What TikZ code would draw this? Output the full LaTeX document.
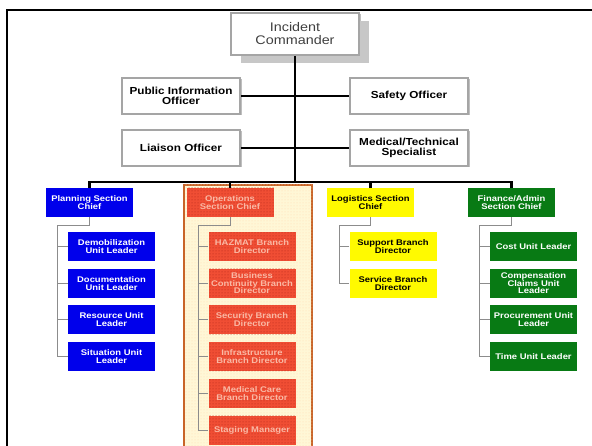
\documentclass[tikz,border=0pt]{standalone}
\usepackage{fontspec}
\newfontfamily\orgfont{Liberation Sans}[FakeStretch=1.15]
\usetikzlibrary{patterns,shadows}
\definecolor{planblue}{RGB}{0,0,235}
\definecolor{logyellow}{RGB}{255,250,0}
\definecolor{fingreen}{RGB}{8,122,20}
\definecolor{opsred}{RGB}{240,78,52}
\definecolor{opsdot}{RGB}{175,35,25}
\definecolor{opstext}{RGB}{250,185,165}
\definecolor{opscream}{RGB}{255,247,214}
\definecolor{opsedge}{RGB}{200,100,40}
\definecolor{boxgray}{RGB}{165,165,165}

\begin{document}
\begin{tikzpicture}[x=1pt, y=-1pt,
    officer/.style={draw=boxgray, line width=1.6pt, fill=white, minimum width=118pt, minimum height=36pt,
        inner sep=0pt, align=center, font=\orgfont\bfseries\fontsize{10.2}{10.5}\selectfont,
        drop shadow={shadow xshift=1.5pt, shadow yshift=-1.5pt, fill=black!25, opacity=1}},
    chief/.style={minimum width=87pt, minimum height=29pt, inner sep=0pt, align=center,
        font=\orgfont\bfseries\fontsize{8.2}{8.3}\selectfont},
    unit/.style={chief, font=\orgfont\bfseries\fontsize{8.2}{7.8}\selectfont},
    plan/.style={fill=planblue, text=white},
    ops/.style={fill=opsred, text=opstext, postaction={pattern=dots, pattern color=opsdot}},
    logi/.style={fill=logyellow, text=black},
    fin/.style={fill=fingreen, text=white},
    mainline/.style={line width=2.6pt},
    subline/.style={draw=black!45, line width=0.9pt}]

    \useasboundingbox (0, 0) rectangle (592, 446);
    \clip (0, 0) rectangle (592, 446);
    \fill [white] (0, 0) rectangle (592, 446);
    \draw [line width=2.4pt] (7, 10) rectangle (620, 470);

    \draw [draw=opsedge, line width=1.8pt, fill=opscream, postaction={pattern=dots, pattern color=orange!30}] (184, 185) rectangle (312, 470);

    \node [officer, font=\orgfont\fontsize{12.5}{13}\selectfont, text=black!75, minimum width=128pt, minimum height=42pt,
        drop shadow={shadow xshift=10pt, shadow yshift=-8pt, fill=black!22, opacity=1}] (ic) at (295, 34) {Incident\\Commander};

    \node [officer] (pio) at (181, 96) {Public Information\\Officer};
    \node [officer] (safety) at (409, 96) {Safety Officer};
    \node [officer] (liaison) at (181, 148) {Liaison Officer};
    \node [officer] (medtech) at (409, 148) {Medical/Technical\\Specialist};

    \node [chief, plan] (planchief) at (89.5, 202.5) {Planning Section\\Chief};
    \node [chief, ops] (opschief) at (230, 202.5) {Operations\\Section Chief};
    \node [chief, logi] (logichief) at (370.5, 202.5) {Logistics Section\\Chief};
    \node [chief, fin] (finchief) at (511.5, 202.5) {Finance/Admin\\Section Chief};

    \node [unit, plan] (demob) at (111.5, 246.5) {Demobilization\\Unit Leader};
    \node [unit, plan] (docu) at (111.5, 283.2) {Documentation\\Unit Leader};
    \node [unit, plan] (resource) at (111.5, 319.9) {Resource Unit\\Leader};
    \node [unit, plan] (situation) at (111.5, 356.6) {Situation Unit\\Leader};

    \node [unit, ops] (hazmat) at (252, 246.5) {HAZMAT Branch\\Director};
    \node [unit, ops] (continuity) at (252, 283.2) {Business\\Continuity Branch\\Director};
    \node [unit, ops] (security) at (252, 319.9) {Security Branch\\Director};
    \node [unit, ops] (infra) at (252, 356.6) {Infrastructure\\Branch Director};
    \node [unit, ops] (medcare) at (252, 393.3) {Medical Care\\Branch Director};
    \node [unit, ops] (staging) at (252, 430) {Staging Manager};

    \node [unit, logi] (support) at (393, 246.5) {Support Branch\\Director};
    \node [unit, logi] (service) at (393, 283.2) {Service Branch\\Director};

    \node [unit, fin] (cost) at (533.5, 246.5) {Cost Unit Leader};
    \node [unit, fin] (claims) at (533.5, 283.2) {Compensation\\Claims Unit\\Leader};
    \node [unit, fin] (procure) at (533.5, 319.9) {Procurement Unit\\Leader};
    \node [unit, fin] (time) at (533.5, 356.6) {Time Unit Leader};

    \coordinate (bus) at (295, 182);
    \draw [mainline] (ic.south) -- (bus);
    \draw [mainline] (pio.east) -- (safety.west);
    \draw [mainline] (liaison.east) -- (medtech.west);
    \draw [mainline] (planchief.north) |- (bus) -| (finchief.north);
    \draw [mainline] (opschief.north) -- (opschief.north |- bus);
    \draw [mainline] (logichief.north) -- (logichief.north |- bus);

    \coordinate (planrail) at (57, 225);
    \coordinate (opsrail) at (198, 225);
    \coordinate (logirail) at (339, 225);
    \coordinate (finrail) at (479, 225);

    \draw [subline] (planchief.south) |- (planrail) |- (situation.west);
    \foreach \u in {demob, docu, resource}
        \draw [subline] (\u.west) -- (\u.west -| planrail);
    \draw [subline] (opschief.south) |- (opsrail) |- (staging.west);
    \foreach \u in {hazmat, continuity, security, infra, medcare}
        \draw [subline] (\u.west) -- (\u.west -| opsrail);
    \draw [subline] (logichief.south) |- (logirail) |- (service.west);
    \draw [subline] (support.west) -- (support.west -| logirail);
    \draw [subline] (finchief.south) |- (finrail) |- (time.west);
    \foreach \u in {cost, claims, procure}
        \draw [subline] (\u.west) -- (\u.west -| finrail);
\end{tikzpicture}
\end{document}
